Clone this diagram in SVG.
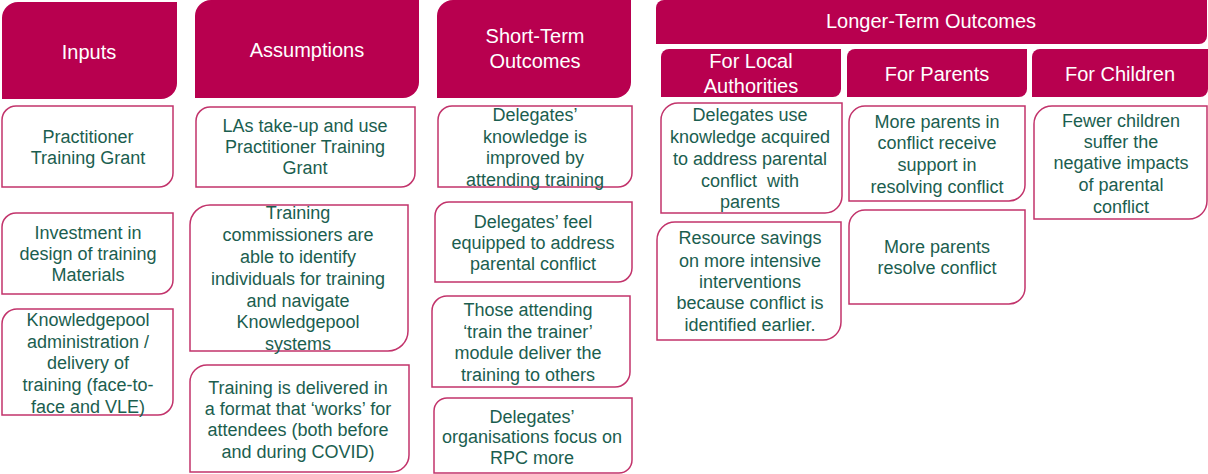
<svg xmlns="http://www.w3.org/2000/svg" width="1208" height="474" viewBox="0 0 1208 474">
  <style>
    .hdr { fill: #b8004f; }
    .box { fill: #ffffff; stroke: #c2336b; stroke-width: 1.5; }
    .ht { font-family: "Liberation Sans", Arial, sans-serif; font-size: 20px; fill: #ffffff; text-anchor: middle; }
    .bt { font-family: "Liberation Sans", Arial, sans-serif; font-size: 18px; fill: #1b5e4f; text-anchor: middle; }
  </style>
  <rect width="1208" height="474" fill="#ffffff"/>

  <!-- column headers: rounded top-left and bottom-right corners -->
  <g id="hdr-inputs">
    <path class="hdr" d="M18,2 H177 V83 A16,16 0 0 1 161,99 H2 V18 A16,16 0 0 1 18,2 Z"/>
    <text class="ht" x="89" y="59">Inputs</text>
  </g>
  <g id="hdr-assumptions">
    <path class="hdr" d="M211,0 H419 V82 A16,16 0 0 1 403,98 H195 V16 A16,16 0 0 1 211,0 Z"/>
    <text class="ht" x="307" y="57">Assumptions</text>
  </g>
  <g id="hdr-short">
    <path class="hdr" d="M453,0 H631 V82 A16,16 0 0 1 615,98 H437 V16 A16,16 0 0 1 453,0 Z"/>
    <text class="ht" x="535" y="43">Short-Term</text>
    <text class="ht" x="535" y="68">Outcomes</text>
  </g>
  <g id="hdr-longer">
    <path class="hdr" d="M664,0 H1207 V36 A8,8 0 0 1 1199,44 H656 V8 A8,8 0 0 1 664,0 Z"/>
    <text class="ht" x="931" y="28">Longer-Term Outcomes</text>
  </g>
  <g id="hdr-la">
    <path class="hdr" d="M669,49 H841 V89 A8,8 0 0 1 833,97 H661 V57 A8,8 0 0 1 669,49 Z"/>
    <text class="ht" x="751" y="68">For Local</text>
    <text class="ht" x="751" y="93">Authorities</text>
  </g>
  <g id="hdr-parents">
    <path class="hdr" d="M855,49 H1027 V89 A8,8 0 0 1 1019,97 H847 V57 A8,8 0 0 1 855,49 Z"/>
    <text class="ht" x="937" y="81">For Parents</text>
  </g>
  <g id="hdr-children">
    <path class="hdr" d="M1040,49 H1208 V89 A8,8 0 0 1 1200,97 H1032 V57 A8,8 0 0 1 1040,49 Z"/>
    <text class="ht" x="1120" y="81">For Children</text>
  </g>

  <!-- Inputs -->
  <g id="in-grant">
    <path class="box" d="M16,106 H173 V173 A14,14 0 0 1 159,187 H2 V120 A14,14 0 0 1 16,106 Z"/>
    <text class="bt" x="88" y="143">Practitioner</text>
    <text class="bt" x="88" y="164">Training Grant</text>
  </g>
  <g id="in-design">
    <path class="box" d="M16,213 H173 V280 A14,14 0 0 1 159,294 H2 V227 A14,14 0 0 1 16,213 Z"/>
    <text class="bt" x="88" y="239">Investment in</text>
    <text class="bt" x="88" y="260">design of training</text>
    <text class="bt" x="88" y="281">Materials</text>
  </g>
  <g id="in-admin">
    <path class="box" d="M17,309 H173 V400 A15,15 0 0 1 158,415 H2 V324 A15,15 0 0 1 17,309 Z"/>
    <text class="bt" x="88" y="326">Knowledgepool</text>
    <text class="bt" x="88" y="348">administration /</text>
    <text class="bt" x="88" y="369">delivery of</text>
    <text class="bt" x="88" y="391">training (face-to-</text>
    <text class="bt" x="88" y="413">face and VLE)</text>
  </g>

  <!-- Assumptions -->
  <g id="as-takeup">
    <path class="box" d="M210,107 H415 V173 A14,14 0 0 1 401,187 H196 V121 A14,14 0 0 1 210,107 Z"/>
    <text class="bt" x="305" y="132">LAs take-up and use</text>
    <text class="bt" x="305" y="153">Practitioner Training</text>
    <text class="bt" x="305" y="174">Grant</text>
  </g>
  <g id="as-commission">
    <path class="box" d="M210,205 H408 V331 A20,20 0 0 1 388,351 H190 V225 A20,20 0 0 1 210,205 Z"/>
    <text class="bt" x="298" y="219">Training</text>
    <text class="bt" x="298" y="241">commissioners are</text>
    <text class="bt" x="298" y="263">able to identify</text>
    <text class="bt" x="298" y="285">individuals for training</text>
    <text class="bt" x="298" y="307">and navigate</text>
    <text class="bt" x="298" y="328">Knowledgepool</text>
    <text class="bt" x="298" y="350">systems</text>
  </g>
  <g id="as-format">
    <path class="box" d="M207,365 H409 V455 A17,17 0 0 1 392,472 H190 V382 A17,17 0 0 1 207,365 Z"/>
    <text class="bt" x="298" y="394">Training is delivered in</text>
    <text class="bt" x="298" y="415">a format that ‘works’ for</text>
    <text class="bt" x="298" y="436">attendees (both before</text>
    <text class="bt" x="298" y="458">and during COVID)</text>
  </g>

  <!-- Short-term outcomes -->
  <g id="st-knowledge">
    <path class="box" d="M452,106 H632 V173 A14,14 0 0 1 618,187 H438 V120 A14,14 0 0 1 452,106 Z"/>
    <text class="bt" x="535" y="121">Delegates’</text>
    <text class="bt" x="535" y="143">knowledge is</text>
    <text class="bt" x="535" y="164">improved by</text>
    <text class="bt" x="535" y="186">attending training</text>
  </g>
  <g id="st-equipped">
    <path class="box" d="M449,202 H632 V268 A14,14 0 0 1 618,282 H435 V216 A14,14 0 0 1 449,202 Z"/>
    <text class="bt" x="533" y="228">Delegates’ feel</text>
    <text class="bt" x="533" y="249">equipped to address</text>
    <text class="bt" x="533" y="270">parental conflict</text>
  </g>
  <g id="st-trainer">
    <path class="box" d="M447,296 H630 V372 A15,15 0 0 1 615,387 H432 V311 A15,15 0 0 1 447,296 Z"/>
    <text class="bt" x="528" y="316">Those attending</text>
    <text class="bt" x="528" y="338">‘train the trainer’</text>
    <text class="bt" x="528" y="359">module deliver the</text>
    <text class="bt" x="528" y="381">training to others</text>
  </g>
  <g id="st-rpc">
    <path class="box" d="M447,398 H632 V460 A13,13 0 0 1 619,473 H434 V411 A13,13 0 0 1 447,398 Z"/>
    <text class="bt" x="532" y="423">Delegates’</text>
    <text class="bt" x="532" y="443">organisations focus on</text>
    <text class="bt" x="532" y="464">RPC more</text>
  </g>

  <!-- Longer-term: local authorities -->
  <g id="la-use">
    <path class="box" d="M678,103 H842 V196 A17,17 0 0 1 825,213 H661 V120 A17,17 0 0 1 678,103 Z"/>
    <text class="bt" x="750" y="121">Delegates use</text>
    <text class="bt" x="750" y="143">knowledge acquired</text>
    <text class="bt" x="750" y="165">to address parental</text>
    <text class="bt" x="750" y="187" xml:space="preserve">conflict  with</text>
    <text class="bt" x="750" y="208">parents</text>
  </g>
  <g id="la-savings">
    <path class="box" d="M675,222 H841 V322 A18,18 0 0 1 823,340 H657 V240 A18,18 0 0 1 675,222 Z"/>
    <text class="bt" x="750" y="244">Resource savings</text>
    <text class="bt" x="750" y="267">on more intensive</text>
    <text class="bt" x="750" y="288">interventions</text>
    <text class="bt" x="750" y="309">because conflict is</text>
    <text class="bt" x="750" y="331">identified earlier.</text>
  </g>

  <!-- Longer-term: parents -->
  <g id="pa-support">
    <path class="box" d="M865,106 H1025 V185 A16,16 0 0 1 1009,201 H849 V122 A16,16 0 0 1 865,106 Z"/>
    <text class="bt" x="937" y="128">More parents in</text>
    <text class="bt" x="937" y="149">conflict receive</text>
    <text class="bt" x="937" y="171">support in</text>
    <text class="bt" x="937" y="193">resolving conflict</text>
  </g>
  <g id="pa-resolve">
    <path class="box" d="M865,210 H1025 V288 A16,16 0 0 1 1009,304 H849 V226 A16,16 0 0 1 865,210 Z"/>
    <text class="bt" x="937" y="253">More parents</text>
    <text class="bt" x="937" y="274">resolve conflict</text>
  </g>

  <!-- Longer-term: children -->
  <g id="ch-impacts">
    <path class="box" d="M1052,106 H1207 V201 A18,18 0 0 1 1189,219 H1034 V124 A18,18 0 0 1 1052,106 Z"/>
    <text class="bt" x="1121" y="127">Fewer children</text>
    <text class="bt" x="1121" y="148">suffer the</text>
    <text class="bt" x="1121" y="169">negative impacts</text>
    <text class="bt" x="1121" y="191">of parental</text>
    <text class="bt" x="1121" y="213">conflict</text>
  </g>
</svg>
